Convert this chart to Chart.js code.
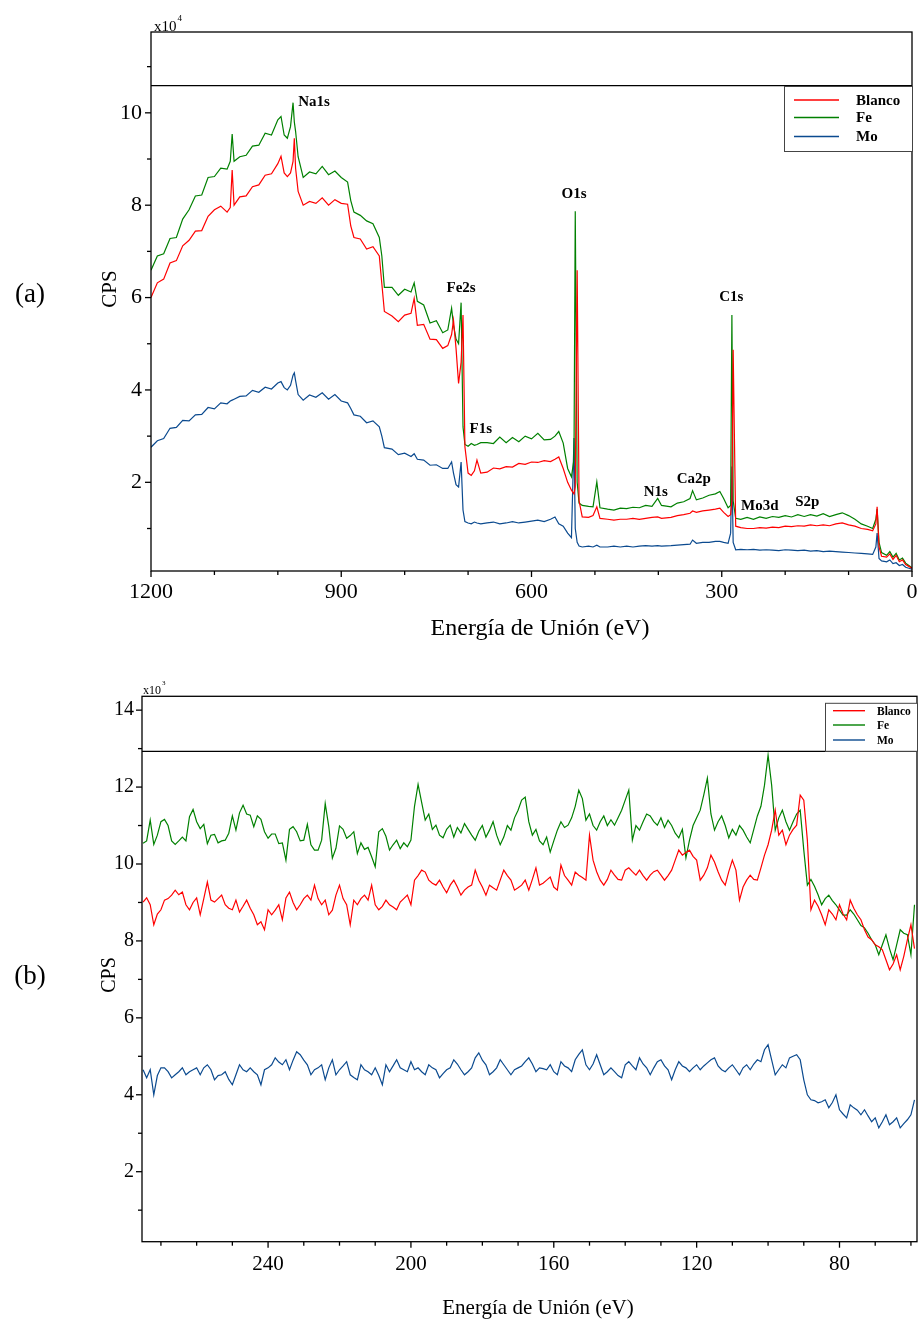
<!DOCTYPE html>
<html>
<head>
<meta charset="utf-8">
<title>XPS espectros</title>
<script src="https://cdn.jsdelivr.net/npm/chart.js@4.4.1/dist/chart.umd.min.js"></script>
<style>
  html, body { margin: 0; padding: 0; background: #fff; }
  #wrap { position: relative; width: 920px; height: 1323px; }
  canvas { position: absolute; left: 0; }
  #surveyChart { top: 0; }
  #detailChart { top: 650px; }
</style>
</head>
<body>
<div id="wrap">
  <canvas id="surveyChart" width="920" height="650"></canvas>
  <canvas id="detailChart" width="920" height="673"></canvas>
</div>
<script>
// ---- panel (a): survey spectrum, CPS in units of 1e4 ----
const surveyEnergy = [
  1200, 1190, 1180, 1170, 1160, 1150, 1140, 1130, 1120, 1110,
  1100, 1090, 1080, 1075, 1072, 1069, 1060, 1050, 1040, 1030,
  1020, 1010, 1000, 995, 990, 985, 980, 976, 974, 972,
  968, 960, 950, 940, 930, 920, 910, 900, 890, 885,
  880, 870, 860, 850, 840, 836, 832, 820, 810, 800,
  790, 785, 780, 770, 760, 750, 740, 732, 726, 723,
  719, 715, 711, 708, 705, 700, 695, 690, 686, 680,
  670, 660, 650, 640, 630, 620, 610, 600, 590, 580,
  570, 563, 557, 550, 543, 537, 533, 531, 528, 525,
  520, 510, 503, 497, 492, 480, 470, 460, 450, 440,
  430, 420, 410, 401, 395, 380, 370, 360, 350, 346,
  340, 330, 320, 310, 303, 297, 290, 286, 284, 282,
  278, 270, 260, 250, 240, 230, 220, 210, 200, 190,
  180, 170, 160, 150, 140, 130, 120, 110, 100, 90,
  80, 70, 62, 57, 55, 52, 48, 40, 35, 30,
  25, 20, 15, 10, 5, 0
];
const surveyBlanco = [
  6.0, 6.32, 6.4, 6.75, 6.8, 7.12, 7.24, 7.44, 7.45, 7.76,
  7.9, 7.98, 7.85, 7.95, 8.76, 8.0, 8.18, 8.2, 8.4, 8.44,
  8.65, 8.68, 8.9, 9.06, 8.7, 8.62, 8.7, 8.95, 9.45, 8.8,
  8.3, 8.0, 8.08, 8.04, 8.16, 8.0, 8.12, 8.04, 8.02, 7.55,
  7.3, 7.27, 7.05, 7.1, 6.9, 6.3, 5.7, 5.6, 5.48, 5.62,
  5.66, 5.98, 5.4, 5.42, 5.1, 5.09, 4.9, 4.96, 5.2, 5.51,
  4.9, 4.14, 4.6, 5.62, 2.77, 2.2, 2.15, 2.25, 2.48, 2.2,
  2.22, 2.31, 2.29, 2.34, 2.33, 2.41, 2.39, 2.44, 2.43, 2.47,
  2.45, 2.5, 2.55, 2.3, 2.0, 1.83, 1.75, 1.9, 6.59, 1.6,
  1.25, 1.24, 1.28, 1.47, 1.22, 1.2, 1.18, 1.2, 1.2, 1.22,
  1.2, 1.22, 1.24, 1.25, 1.22, 1.24, 1.28, 1.3, 1.33, 1.38,
  1.35, 1.38, 1.4, 1.42, 1.44, 1.35, 1.26, 1.3, 1.6, 4.87,
  1.05, 1.02, 1.0, 1.0, 1.02, 1.01, 1.03, 1.02, 1.05, 1.04,
  1.06, 1.05, 1.08, 1.06, 1.08, 1.06, 1.1, 1.12, 1.08, 1.05,
  1.0, 0.98, 0.95, 1.1, 1.47, 0.6, 0.4, 0.38, 0.45, 0.33,
  0.42, 0.28, 0.32, 0.22, 0.18, 0.14
];
const surveyFe = [
  6.59, 6.9, 6.95, 7.28, 7.3, 7.7, 7.9, 8.2, 8.22, 8.6,
  8.62, 8.8, 8.78, 8.95, 9.54, 8.95, 9.05, 9.08, 9.28, 9.3,
  9.56, 9.52, 9.85, 9.92, 9.52, 9.45, 9.7, 10.22, 9.8, 9.6,
  9.05, 8.6, 8.72, 8.68, 8.84, 8.66, 8.74, 8.6, 8.5, 8.1,
  7.85, 7.78, 7.66, 7.6, 7.3, 6.9, 6.22, 6.22, 6.05, 6.18,
  6.12, 6.32, 5.92, 5.84, 5.45, 5.5, 5.24, 5.3, 5.77, 5.4,
  5.1, 5.0, 5.89, 3.2, 2.82, 2.78, 2.84, 2.8, 2.82, 2.86,
  2.86, 2.84, 2.98, 2.86, 2.97, 2.88, 3.0, 2.94, 3.06, 2.92,
  2.93, 3.0, 3.1, 2.85, 2.3, 2.12, 2.5, 7.87, 2.0, 1.55,
  1.5, 1.48, 1.47, 2.01, 1.45, 1.42, 1.4, 1.44, 1.43, 1.46,
  1.45, 1.5, 1.48, 1.65, 1.5, 1.47, 1.55, 1.58, 1.65, 1.82,
  1.62, 1.66, 1.72, 1.75, 1.8, 1.65, 1.45, 1.5, 5.62, 1.6,
  1.22, 1.2, 1.24, 1.2, 1.25, 1.22, 1.26, 1.24, 1.28, 1.25,
  1.3, 1.26, 1.3, 1.27, 1.32, 1.26, 1.3, 1.34, 1.28, 1.2,
  1.1, 1.05, 1.0, 1.2, 1.42, 0.7, 0.48, 0.42, 0.5, 0.38,
  0.46, 0.32, 0.36, 0.25, 0.2, 0.15
];
const surveyMo = [
  2.76, 2.9, 2.95, 3.17, 3.19, 3.34, 3.33, 3.46, 3.47, 3.62,
  3.59, 3.72, 3.7, 3.76, 3.78, 3.8, 3.86, 3.87, 3.99, 3.95,
  4.06, 4.02, 4.15, 4.18, 4.05, 4.0, 4.1, 4.32, 4.37, 4.2,
  3.9, 3.78, 3.89, 3.84, 3.94, 3.8, 3.9, 3.76, 3.72, 3.6,
  3.46, 3.43, 3.29, 3.33, 3.2, 3.0, 2.75, 2.72, 2.6, 2.63,
  2.56, 2.62, 2.5, 2.48, 2.37, 2.38, 2.3, 2.3, 2.44, 2.2,
  1.95, 1.9, 2.44, 1.4, 1.15, 1.12, 1.1, 1.14, 1.12, 1.1,
  1.12, 1.14, 1.1, 1.12, 1.15, 1.12, 1.14, 1.16, 1.18, 1.15,
  1.2, 1.25, 1.1, 1.05, 0.9, 0.8, 2.96, 1.0, 0.7, 0.62,
  0.6, 0.62, 0.6, 0.64, 0.6, 0.6, 0.62, 0.6, 0.62, 0.6,
  0.62, 0.63, 0.62, 0.63, 0.62, 0.63, 0.64, 0.65, 0.66, 0.75,
  0.68, 0.7, 0.7, 0.72, 0.72, 0.7, 0.68, 0.9, 2.34, 0.7,
  0.54, 0.55, 0.54, 0.55, 0.53, 0.54, 0.53, 0.52, 0.54, 0.53,
  0.52, 0.53, 0.51, 0.52, 0.5, 0.51, 0.5, 0.49, 0.48, 0.47,
  0.46, 0.45, 0.44, 0.6, 0.9, 0.35, 0.3, 0.28, 0.32, 0.24,
  0.26, 0.2, 0.22, 0.16, 0.14, 0.12
];

// ---- panel (b): 275-59 eV detail, CPS in units of 1e3 ----
const detailEnergy = [
  275, 274, 273, 272, 271, 270, 269, 268, 267, 266,
  265, 264, 263, 262, 261, 260, 259, 258, 257, 256,
  255, 254, 253, 252, 251, 250, 249, 248, 247, 246,
  245, 244, 243, 242, 241, 240, 239, 238, 237, 236,
  235, 234, 233, 232, 231, 230, 229, 228, 227, 226,
  225, 224, 223, 222, 221, 220, 219, 218, 217, 216,
  215, 214, 213, 212, 211, 210, 209, 208, 207, 206,
  205, 204, 203, 202, 201, 200, 199, 198, 197, 196,
  195, 194, 193, 192, 191, 190, 189, 188, 187, 186,
  185, 184, 183, 182, 181, 180, 179, 178, 177, 176,
  175, 174, 173, 172, 171, 170, 169, 168, 167, 166,
  165, 164, 163, 162, 161, 160, 159, 158, 157, 156,
  155, 154, 153, 152, 151, 150, 149, 148, 147, 146,
  145, 144, 143, 142, 141, 140, 139, 138, 137, 136,
  135, 134, 133, 132, 131, 130, 129, 128, 127, 126,
  125, 124, 123, 122, 121, 120, 119, 118, 117, 116,
  115, 114, 113, 112, 111, 110, 109, 108, 107, 106,
  105, 104, 103, 102, 101, 100, 99, 98, 97, 96,
  95, 94, 93, 92, 91, 90, 89, 88, 87, 86,
  85, 84, 83, 82, 81, 80, 79, 78, 77, 76,
  75, 74, 73, 72, 71, 70, 69, 68, 67, 66,
  65, 64, 63, 62, 61, 60, 59
];
const detailBlanco = [
  9.01, 9.12, 8.94, 8.42, 8.7, 8.81, 9.06, 9.1, 9.19, 9.32,
  9.2, 9.27, 8.94, 8.81, 9.0, 9.12, 8.68, 9.1, 9.53, 9.06,
  9.01, 9.1, 9.19, 8.94, 8.85, 8.81, 9.06, 8.75, 8.9, 9.06,
  8.85, 8.68, 8.42, 8.5, 8.29, 8.81, 8.68, 8.8, 8.94, 8.55,
  9.12, 9.27, 9.0, 8.81, 8.94, 9.1, 9.19, 9.06, 9.45, 9.1,
  8.94, 9.06, 8.68, 8.8, 9.19, 9.45, 9.1, 8.94, 8.42, 9.06,
  8.94, 9.1, 9.19, 9.06, 9.45, 8.94, 8.81, 8.9, 9.06, 8.94,
  8.88, 8.81, 9.01, 9.1, 9.19, 8.94, 9.58, 9.7, 9.84, 9.79,
  9.58, 9.5, 9.45, 9.58, 9.4, 9.25, 9.45, 9.58, 9.4, 9.19,
  9.32, 9.4, 9.45, 9.84, 9.58, 9.4, 9.19, 9.45, 9.38, 9.32,
  9.58, 9.84, 9.7, 9.58, 9.32, 9.38, 9.45, 9.58, 9.32, 9.6,
  9.9, 9.45, 9.5, 9.58, 9.66, 9.4, 9.32, 9.97, 9.7, 9.58,
  9.45, 9.79, 9.71, 9.65, 9.58, 10.75, 10.1, 9.8, 9.58, 9.45,
  9.6, 9.84, 9.71, 9.6, 9.58, 9.84, 9.9, 9.8, 9.71, 9.84,
  9.7, 9.58, 9.71, 9.8, 9.84, 9.71, 9.58, 9.7, 9.84, 10.1,
  10.36, 10.23, 10.3, 10.36, 10.2, 10.1, 9.58, 9.71, 9.9, 10.23,
  10.05, 9.8, 9.58, 9.45, 9.8, 10.1, 9.84, 9.06, 9.4, 9.58,
  9.71, 9.6, 9.58, 9.9, 10.23, 10.5, 10.88, 11.4, 10.75, 10.88,
  10.5, 10.75, 10.9, 11.01, 11.79, 11.66, 10.62, 8.81, 9.06, 8.9,
  8.68, 8.42, 8.81, 8.7, 8.55, 8.94, 8.7, 8.55, 9.06, 8.85,
  8.68, 8.55, 8.29, 8.1, 8.03, 7.9, 7.85, 7.77, 7.51, 7.25,
  7.4, 7.64, 7.25, 7.6, 8.03, 8.42, 7.8
];
const detailFe = [
  10.54, 10.6, 11.14, 10.51, 10.75, 11.1, 11.16, 11.0, 10.6, 10.51,
  10.6, 10.7, 10.6, 11.23, 11.42, 11.1, 10.92, 11.03, 10.53, 10.75,
  10.77, 10.55, 10.6, 10.62, 10.8, 11.25, 10.88, 11.33, 11.53, 11.3,
  11.27, 10.97, 11.25, 11.16, 10.84, 10.67, 10.78, 10.78, 10.53, 10.55,
  10.1, 10.9, 10.97, 10.84, 10.6, 10.62, 11.03, 10.5, 10.36, 10.36,
  10.62, 11.57, 10.97, 10.15, 10.41, 10.99, 10.9, 10.67, 10.74, 10.84,
  10.27, 10.55, 10.38, 10.43, 10.19, 9.93, 10.84, 10.92, 10.72, 10.36,
  10.5, 10.62, 10.4, 10.55, 10.45, 10.62, 11.5, 12.07, 11.6, 11.14,
  11.3, 10.9, 11.01, 10.75, 10.68, 10.9, 11.01, 10.7, 10.95, 10.81,
  11.05, 10.9, 10.75, 10.62, 10.85, 11.0, 10.7, 10.88, 11.1, 10.75,
  10.5, 10.7, 11.0, 10.88, 11.2, 11.4, 11.66, 11.74, 11.1, 10.75,
  10.9, 10.6, 10.5, 10.7, 10.31, 10.6, 10.88, 11.1, 10.95, 11.01,
  11.2, 11.5, 11.92, 11.7, 11.14, 11.3, 11.0, 10.88, 11.1, 11.25,
  11.0, 11.15, 11.01, 11.2, 11.4, 11.66, 11.92, 10.62, 11.0, 10.88,
  11.1, 11.3, 11.25, 11.1, 11.01, 11.2, 10.95, 11.14, 11.0, 10.8,
  10.68, 10.9, 10.16, 10.62, 11.0, 11.2, 11.4, 11.8, 12.23, 11.3,
  10.88, 11.1, 11.25, 11.0, 10.68, 10.9, 10.75, 11.0, 10.88, 10.7,
  10.55, 10.9, 11.25, 11.5, 12.05, 12.83, 12.05, 10.88, 11.2, 11.4,
  11.1, 10.88, 11.1, 11.3, 11.4, 10.36, 9.45, 9.6, 9.42, 9.2,
  8.94, 9.1, 9.19, 9.05, 8.94, 8.8, 8.67, 8.67, 8.81, 8.7,
  8.55, 8.4, 8.34, 8.2, 8.03, 7.9, 7.64, 7.9, 8.16, 7.8,
  7.51, 7.9, 8.29, 8.2, 8.16, 7.64, 8.94
];
const detailMo = [
  4.65, 4.44, 4.65, 4.0, 4.5, 4.7, 4.7, 4.6, 4.44, 4.52,
  4.6, 4.7, 4.52, 4.6, 4.65, 4.7, 4.52, 4.7, 4.78, 4.65,
  4.39, 4.5, 4.52, 4.6, 4.4, 4.26, 4.52, 4.78, 4.65, 4.6,
  4.7, 4.6, 4.52, 4.26, 4.65, 4.7, 4.78, 4.96, 4.85, 4.78,
  4.91, 4.65, 4.9, 5.12, 5.04, 4.9, 4.78, 4.52, 4.65, 4.7,
  4.78, 4.39, 4.7, 4.91, 4.52, 4.65, 4.75, 4.86, 4.52, 4.45,
  4.39, 4.78, 4.65, 4.6, 4.52, 4.7, 4.5, 4.26, 4.78, 4.6,
  4.75, 4.91, 4.7, 4.65, 4.6, 4.86, 4.65, 4.7, 4.6, 4.52,
  4.78, 4.7, 4.65, 4.44, 4.55, 4.65, 4.7, 4.91, 4.8, 4.65,
  4.52, 4.6, 4.7, 4.96, 5.09, 4.9, 4.78, 4.52, 4.6, 4.7,
  4.91, 4.78, 4.65, 4.52, 4.65, 4.7, 4.75, 4.86, 4.96, 4.8,
  4.6, 4.7, 4.68, 4.65, 4.78, 4.6, 4.52, 4.86, 4.75, 4.7,
  4.6, 4.91, 5.05, 5.17, 4.78, 4.65, 4.8, 5.04, 4.78, 4.52,
  4.6, 4.7, 4.6, 4.5, 4.44, 4.78, 4.86, 4.75, 4.65, 4.96,
  4.8, 4.7, 4.52, 4.7, 4.86, 4.91, 4.75, 4.65, 4.39, 4.65,
  4.86, 4.75, 4.7, 4.6, 4.7, 4.78, 4.65, 4.75, 4.83, 4.91,
  4.96, 4.75, 4.65, 4.6, 4.7, 4.78, 4.65, 4.52, 4.7, 4.78,
  4.65, 4.8, 4.91, 4.86, 5.17, 5.3, 4.91, 4.52, 4.65, 4.78,
  4.7, 4.96, 5.0, 5.04, 4.91, 4.39, 4.0, 3.87, 3.85, 3.79,
  3.82, 3.87, 3.66, 3.8, 4.0, 3.61, 3.5, 3.4, 3.74, 3.66,
  3.6, 3.48, 3.61, 3.45, 3.3, 3.4, 3.14, 3.3, 3.48, 3.22,
  3.3, 3.4, 3.14, 3.25, 3.35, 3.48, 3.87
];

const seriesNames = ['Blanco', 'Fe', 'Mo'];
const seriesColors = ['#ff0000', '#008000', '#0b4a8f'];

// axis ticks
const surveyXMajor = [1200, 900, 600, 300, 0];
const surveyXMinor = [1100, 1000, 800, 700, 500, 400, 200, 100];
const surveyYMajor = [2, 4, 6, 8, 10];
const surveyYMinor = [1, 3, 5, 7, 9, 11];
const detailXMajor = [240, 200, 160, 120, 80];
const detailXMinor = [270, 260, 250, 230, 220, 210, 190, 180, 170, 150, 140, 130, 110, 100, 90, 70, 60];
const detailYMajor = [2, 4, 6, 8, 10, 12, 14];
const detailYMinor = [1, 3, 5, 7, 9, 11, 13];

// peak labels on the survey (energy, CPS x1e4)
const peakNames = ['Na1s', 'O1s', 'Fe2s', 'F1s', 'C1s', 'N1s', 'Ca2p', 'Mo3d', 'S2p'];
const peakEnergy = [943, 533, 711, 680, 285, 404, 344, 240, 165];
const peakCps = [10.23, 8.23, 6.21, 3.15, 6.01, 1.79, 2.07, 1.49, 1.57];

const SERIF = '"Liberation Serif", "Times New Roman", serif';

function seg(ctx, x0, y0, x1, y1) {
    ctx.beginPath();
    ctx.moveTo(x0, y0);
    ctx.lineTo(x1, y1);
    ctx.stroke();
}

// frame, minor ticks, titles, legend and peak names
const decorPlugin = {
    id: 'decor',
    afterDraw(chart, args, o) {
        const ctx = chart.ctx;
        const a = chart.chartArea;
        const xs = chart.scales.x;
        const ys = chart.scales.y;
        ctx.save();
        ctx.strokeStyle = '#000';
        ctx.fillStyle = '#000';
        ctx.lineWidth = 1.3;
        ctx.strokeRect(a.left, a.top, a.right - a.left, a.bottom - a.top);

        const by = ys.getPixelForValue(o.band);
        seg(ctx, a.left, by, a.right, by);

        o.xMajor.forEach(v => { const p = xs.getPixelForValue(v); seg(ctx, p, a.bottom, p, a.bottom + 6); });
        o.xMinor.forEach(v => { const p = xs.getPixelForValue(v); seg(ctx, p, a.bottom, p, a.bottom + 4); });
        o.yMajor.forEach(v => { const p = ys.getPixelForValue(v); seg(ctx, a.left - 6, p, a.left, p); });
        o.yMinor.forEach(v => { const p = ys.getPixelForValue(v); seg(ctx, a.left - 4, p, a.left, p); });

        // x10^n
        const m = o.mult;
        ctx.textAlign = 'left';
        ctx.textBaseline = 'alphabetic';
        ctx.font = m.size + 'px ' + SERIF;
        ctx.fillText('x10', m.x, m.y);
        const w = ctx.measureText('x10').width;
        ctx.font = m.supSize + 'px ' + SERIF;
        ctx.fillText(m.exp, m.x + w + 1, m.supY);

        // titles
        ctx.textAlign = 'center';
        ctx.textBaseline = 'middle';
        ctx.font = o.xTitle.size + 'px ' + SERIF;
        ctx.fillText('Energía de Unión (eV)', o.xTitle.x, o.xTitle.y);
        ctx.font = o.panel.size + 'px ' + SERIF;
        ctx.fillText(o.panel.text, o.panel.x, o.panel.y);
        ctx.save();
        ctx.translate(o.yTitle.x, o.yTitle.y);
        ctx.rotate(-Math.PI / 2);
        ctx.font = o.yTitle.size + 'px ' + SERIF;
        ctx.fillText('CPS', 0, 0);
        ctx.restore();

        // legend
        const L = o.legend;
        ctx.fillStyle = '#fff';
        ctx.fillRect(L.left, L.top, a.right - L.left, L.bottom - L.top);
        ctx.lineWidth = 1;
        ctx.strokeStyle = '#444';
        ctx.strokeRect(L.left + 0.5, L.top, a.right - L.left, L.bottom - L.top);
        ctx.font = 'bold ' + L.size + 'px ' + SERIF;
        ctx.textAlign = 'left';
        seriesNames.forEach((name, i) => {
            ctx.strokeStyle = seriesColors[i];
            ctx.lineWidth = 1.4;
            seg(ctx, L.x0, L.rows[i], L.x1, L.rows[i]);
            ctx.fillStyle = '#000';
            ctx.fillText(name, L.tx, L.rows[i] + 1);
        });

        if (o.peaks) {
            ctx.font = 'bold 15px ' + SERIF;
            ctx.textAlign = 'center';
            ctx.fillStyle = '#000';
            peakNames.forEach((name, i) => {
                ctx.fillText(name, xs.getPixelForValue(peakEnergy[i]), ys.getPixelForValue(peakCps[i]));
            });
        }
        ctx.restore();
    }
};

function buildSets(energy, lists) {
    return lists.map((vals, i) => ({
        label: seriesNames[i],
        data: energy.map((e, k) => ({ x: e, y: vals[k] })),
        borderColor: seriesColors[i],
        borderWidth: 1.2,
        pointRadius: 0,
        tension: 0,
        fill: false
    }));
}

function makeChart(id, c) {
    return new Chart(document.getElementById(id), {
        type: 'line',
        data: { datasets: buildSets(c.energy, c.series) },
        options: {
            responsive: false,
            animation: false,
            devicePixelRatio: 1,
            parsing: false,
            normalized: true,
            layout: { padding: c.padding },
            plugins: {
                legend: { display: false },
                tooltip: { enabled: false },
                decor: c.decor
            },
            scales: {
                x: {
                    type: 'linear',
                    reverse: true,
                    min: c.xMin,
                    max: c.xMax,
                    afterBuildTicks: s => { s.ticks = c.decor.xMajor.map(v => ({ value: v })); },
                    afterFit: s => {
                        // keep the plot box where it is: no extra room for edge labels
                        s.height = c.xHeight;
                        s.paddingLeft = 0;
                        s.paddingRight = 0;
                    },
                    grid: { display: false, drawTicks: false },
                    border: { display: false },
                    ticks: {
                        autoSkip: false,
                        maxRotation: 0,
                        padding: c.xPad,
                        color: '#000',
                        font: { family: SERIF, size: c.xFont },
                        callback: v => String(v)
                    }
                },
                y: {
                    type: 'linear',
                    min: c.yMin,
                    max: c.yMax,
                    afterBuildTicks: s => { s.ticks = c.decor.yMajor.map(v => ({ value: v })); },
                    afterFit: s => {
                        s.width = c.yWidth;
                        s.paddingTop = 0;
                        s.paddingBottom = 0;
                    },
                    grid: { display: false, drawTicks: false },
                    border: { display: false },
                    ticks: {
                        padding: c.yPad,
                        color: '#000',
                        font: { family: SERIF, size: c.yFont },
                        callback: v => String(v)
                    }
                }
            }
        },
        plugins: [decorPlugin]
    });
}

makeChart('surveyChart', {
    energy: surveyEnergy,
    series: [surveyBlanco, surveyFe, surveyMo],
    padding: { left: 0, right: 8, top: 32, bottom: 0 },
    xMin: 0, xMax: 1200, yMin: 0.08, yMax: 11.75,
    xHeight: 79, yWidth: 151,
    xPad: 8, yPad: 9, xFont: 22, yFont: 22,
    decor: {
        band: 10.59,
        xMajor: surveyXMajor, xMinor: surveyXMinor,
        yMajor: surveyYMajor, yMinor: surveyYMinor,
        mult: { x: 154, y: 31, size: 15, exp: '4', supY: 21, supSize: 9 },
        xTitle: { x: 540, y: 629, size: 24 },
        yTitle: { x: 110, y: 289, size: 21 },
        panel: { text: '(a)', x: 30, y: 295, size: 27 },
        legend: { left: 784, top: 86.5, bottom: 151.5, x0: 794, x1: 839, tx: 856, rows: [100, 117.5, 136.5], size: 15 },
        peaks: true
    }
});

makeChart('detailChart', {
    energy: detailEnergy,
    series: [detailBlanco, detailFe, detailMo],
    padding: { left: 0, right: 3, top: 46.3, bottom: 0 },
    xMin: 58.3, xMax: 275.3, yMin: 0.18, yMax: 14.36,
    xHeight: 81.3, yWidth: 142,
    xPad: 10, yPad: 8, xFont: 21, yFont: 20,
    decor: {
        band: 12.93,
        xMajor: detailXMajor, xMinor: detailXMinor,
        yMajor: detailYMajor, yMinor: detailYMinor,
        mult: { x: 143, y: 43.5, size: 12, exp: '3', supY: 35, supSize: 7 },
        xTitle: { x: 538, y: 658, size: 21 },
        yTitle: { x: 110, y: 325, size: 20 },
        panel: { text: '(b)', x: 30, y: 327, size: 27 },
        legend: { left: 825, top: 53.3, bottom: 101.3, x0: 833, x1: 865, tx: 877, rows: [60.7, 75, 90], size: 11.5 },
        peaks: false
    }
});
</script>
</body>
</html>
